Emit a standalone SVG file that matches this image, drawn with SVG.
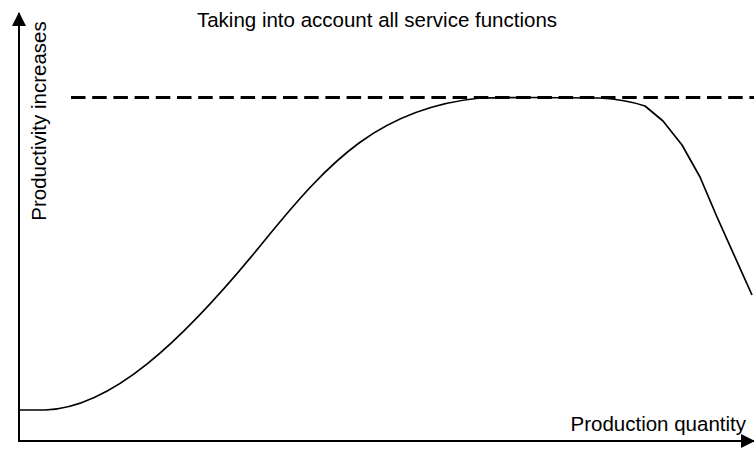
<svg xmlns="http://www.w3.org/2000/svg" width="754" height="449" viewBox="0 0 754 449">
<style>
.t{font-family:"Liberation Sans",Arial,sans-serif;font-size:20.5px;fill:#000}
.ax{stroke:#000;stroke-width:2;fill:none}
</style>
<defs>
<marker id="ah" markerWidth="14" markerHeight="14" refX="13" refY="7" orient="auto" markerUnits="userSpaceOnUse">
<path d="M0,0 L14,7 L0,14 Z" fill="#000"/>
</marker>
</defs>
<rect width="754" height="449" fill="#fff"/>
<g id="connectors">
<line class="ax" x1="19" y1="442" x2="19" y2="13" marker-end="url(#ah)"/>
<line class="ax" x1="18" y1="441" x2="754" y2="441" marker-end="url(#ah)"/>
<line x1="71" y1="97.5" x2="754" y2="97.5" stroke="#000" stroke-width="2.8" stroke-dasharray="14.5,6.7"/>
<path d="M19,410 L45,410 C110,408 180,345 265,240 C330,160 380,108 480,98 C520,97 560,97.5 600,98 C615,98.8 630,101 645,106 L663,121 L682,145 L700,177 L717,217 L752,295" fill="none" stroke="#000" stroke-width="1.7" stroke-linejoin="round"/>
</g>
<g id="title"><text class="t" x="377" y="27" text-anchor="middle">Taking into account all service functions</text></g>
<g id="ylabel"><text class="t" transform="translate(46,121) rotate(-90)" text-anchor="middle">Productivity increases</text></g>
<g id="xlabel"><text class="t" x="746" y="431" text-anchor="end">Production quantity</text></g>
</svg>
